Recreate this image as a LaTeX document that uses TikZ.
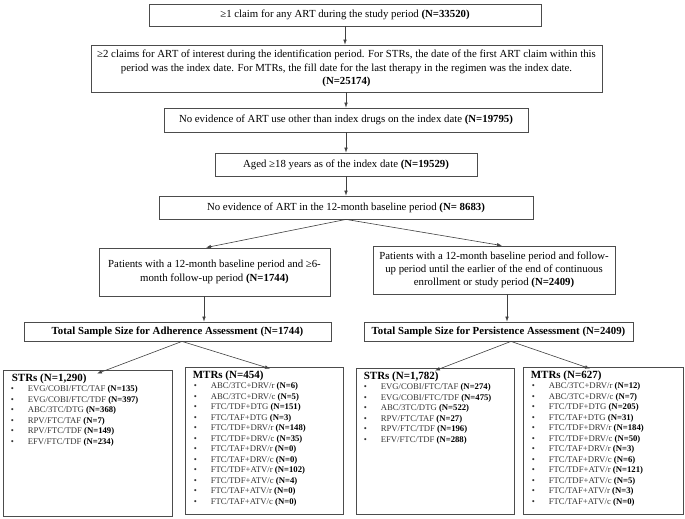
\documentclass[tikz,border=0pt]{standalone}
\usepackage{fontspec}
\setmainfont{Liberation Serif}
\usetikzlibrary{arrows.meta,calc}
\newcommand{\lsitem}[2]{\makebox[17pt][l]{\textbullet}#1 \textbf{\color{black}(N=#2)}}
\begin{document}
\begin{tikzpicture}[x=1pt,y=-1pt,
 box/.style={draw=black!70, line width=0.8pt, align=center, inner sep=0pt, font=\fontsize{10.8}{13.2}\selectfont},
 lbox/.style={draw=black!70, line width=0.8pt, inner sep=0pt},
 lhead/.style={anchor=base west, inner sep=0pt, font=\bfseries\fontsize{11}{13}\selectfont},
 ltext/.style={anchor=north west, inner sep=0pt, align=left, font=\fontsize{8.7}{10.5}\selectfont, text=black!80},
 arr/.style={draw=black!75, line width=0.6pt, -{Latex[length=5pt,width=3.6pt]}},
]
\useasboundingbox (0,0) rectangle (685,519);

% main chain
\node[box, minimum width=392, minimum height=22] (b1) at (345,15)
  {≥1 claim for any ART during the study period \textbf{(N=33520)}};
\node[box, minimum width=511, minimum height=47] (b2) at (346.5,68.5)
  {≥2 claims for ART of interest during the identification period. For STRs, the date of the first ART claim within this\\
   period was the index date. For MTRs, the fill date for the last therapy in the regimen was the index date.\\
   \textbf{(N=25174)}};
\node[box, minimum width=364, minimum height=24] (b3) at (346,120)
  {No evidence of ART use other than index drugs on the index date \textbf{(N=19795)}};
\node[box, minimum width=262, minimum height=23] (b4) at (346,164.5)
  {Aged ≥18 years as of the index date \textbf{(N=19529)}};
\node[box, minimum width=374, minimum height=23] (b5) at (346,207.5)
  {No evidence of ART in the 12-month baseline period \textbf{(N= 8683)}};

\node[box, minimum width=231, minimum height=48] (mL) at (214.5,272)
  {Patients with a 12-month baseline period and ≥6-\\month follow-up period \textbf{(N=1744)}};
\node[box, minimum width=242, minimum height=48] (mR) at (494,270)
  {Patients with a 12-month baseline period and follow-\\up period until the earlier of the end of continuous\\enrollment or study period \textbf{(N=2409)}};

\node[box, minimum width=307, minimum height=19, font=\bfseries\fontsize{10.8}{13.2}\selectfont] (tL) at (177.5,331.5)
  {Total Sample Size for Adherence Assessment (N=1744)};
\node[box, minimum width=269, minimum height=19, font=\bfseries\fontsize{10.8}{13.2}\selectfont] (tR) at (498.5,331.5)
  {Total Sample Size for Persistence Assessment (N=2409)};

% bottom boxes
\node[lbox, minimum width=169, minimum height=146] (sL) at (87.5,443) {};
\node[lbox, minimum width=158, minimum height=147] (mtL) at (264,440.5) {};
\node[lbox, minimum width=158, minimum height=146] (sR) at (435,441) {};
\node[lbox, minimum width=160, minimum height=147] (mtR) at (603,440.5) {};

\node[lhead] (sLh) at ($(sL.north west)+(9,11.5)$) {STRs (N=1,290)};
\node[ltext] (sLi) at ($(sL.north west)+(8,16)$) {%
\lsitem{EVG/COBI/FTC/TAF}{135}\\
\lsitem{EVG/COBI/FTC/TDF}{397}\\
\lsitem{ABC/3TC/DTG}{368}\\
\lsitem{RPV/FTC/TAF}{7}\\
\lsitem{RPV/FTC/TDF}{149}\\
\lsitem{EFV/FTC/TDF}{234}};

\node[lhead] (mtLh) at ($(mtL.north west)+(8,11.5)$) {MTRs (N=454)};
\node[ltext] (mtLi) at ($(mtL.north west)+(9,16)$) {%
\lsitem{ABC/3TC+DRV/r}{6}\\
\lsitem{ABC/3TC+DRV/c}{5}\\
\lsitem{FTC/TDF+DTG}{151}\\
\lsitem{FTC/TAF+DTG}{3}\\
\lsitem{FTC/TDF+DRV/r}{148}\\
\lsitem{FTC/TDF+DRV/c}{35}\\
\lsitem{FTC/TAF+DRV/r}{0}\\
\lsitem{FTC/TAF+DRV/c}{0}\\
\lsitem{FTC/TDF+ATV/r}{102}\\
\lsitem{FTC/TDF+ATV/c}{4}\\
\lsitem{FTC/TAF+ATV/r}{0}\\
\lsitem{FTC/TAF+ATV/c}{0}};

\node[lhead] (sRh) at ($(sR.north west)+(8,11.5)$) {STRs (N=1,782)};
\node[ltext] (sRi) at ($(sR.north west)+(8,16)$) {%
\lsitem{EVG/COBI/FTC/TAF}{274}\\
\lsitem{EVG/COBI/FTC/TDF}{475}\\
\lsitem{ABC/3TC/DTG}{522}\\
\lsitem{RPV/FTC/TAF}{27}\\
\lsitem{RPV/FTC/TDF}{196}\\
\lsitem{EFV/FTC/TDF}{288}};

\node[lhead] (mtRh) at ($(mtR.north west)+(8,11.5)$) {MTRs (N=627)};
\node[ltext] (mtRi) at ($(mtR.north west)+(9,16)$) {%
\lsitem{ABC/3TC+DRV/r}{12}\\
\lsitem{ABC/3TC+DRV/c}{7}\\
\lsitem{FTC/TDF+DTG}{205}\\
\lsitem{FTC/TAF+DTG}{31}\\
\lsitem{FTC/TDF+DRV/r}{184}\\
\lsitem{FTC/TDF+DRV/c}{50}\\
\lsitem{FTC/TAF+DRV/r}{3}\\
\lsitem{FTC/TAF+DRV/c}{6}\\
\lsitem{FTC/TDF+ATV/r}{121}\\
\lsitem{FTC/TDF+ATV/c}{5}\\
\lsitem{FTC/TAF+ATV/r}{3}\\
\lsitem{FTC/TAF+ATV/c}{0}};

% connectors
\draw[arr] (b1.south) -- (b1.south |- b2.north);
\draw[arr] ([xshift=-0.5pt]b2.south) -- ([xshift=-0.5pt]b2.south |- b3.north);
\draw[arr] (b3.south) -- (b3.south |- b4.north);
\draw[arr] (b4.south) -- (b4.south |- b5.north);
\draw[arr] (b5.south) -- ([xshift=-8.5pt]mL.north);
\draw[arr] (b5.south) -- ([xshift=8pt]mR.north);
\draw[arr] ([xshift=-10.5pt]mL.south) -- ([xshift=-10.5pt]mL.south |- tL.north);
\draw[arr] ([xshift=13pt]mR.south) -- ([xshift=13pt]mR.south |- tR.north);
\draw[arr] ([xshift=4.5pt]tL.south) -- ([xshift=9.5pt,yshift=-4pt]sL.north);
\draw[arr] ([xshift=4.5pt]tL.south) -- ([xshift=6pt,yshift=-2pt]mtL.north);
\draw[arr] ([xshift=12.5pt]tR.south) -- ([yshift=-3pt]sR.north);
\draw[arr] ([xshift=12.5pt]tR.south) -- ([xshift=-13pt,yshift=-2pt]mtR.north);
\end{tikzpicture}
\end{document}
